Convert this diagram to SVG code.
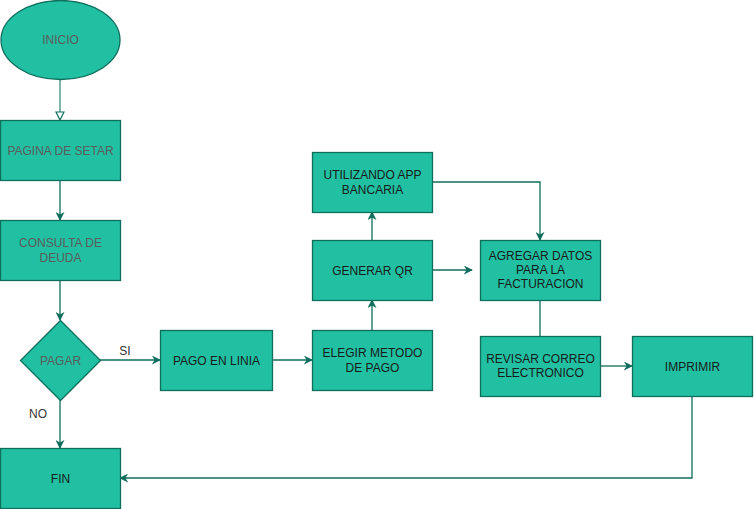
<svg xmlns="http://www.w3.org/2000/svg" width="754" height="509" viewBox="0 0 754 509">
<defs>
<style>
.n{fill:#21C0A2;stroke:#0F6E5C;stroke-width:1.3}
.t{font-family:"Liberation Sans",Arial,sans-serif;font-size:12px;fill:#1a1a1a;text-anchor:middle}
.g{fill:#5c5c5c}
.c{fill:none;stroke:#0F6E5C;stroke-width:1.3}
.l{font-family:"Liberation Sans",Arial,sans-serif;font-size:12px;fill:#333;text-anchor:middle}
</style>
<marker id="a" viewBox="0 0 10 10" refX="9" refY="5" markerWidth="9" markerHeight="9" orient="auto" markerUnits="userSpaceOnUse">
<path d="M0,0 L10,5 L0,10 L3,5 Z" fill="#0F6E5C"/>
</marker>
<marker id="o" viewBox="0 0 10 10" refX="9" refY="5" markerWidth="10" markerHeight="10" orient="auto" markerUnits="userSpaceOnUse">
<path d="M1,1 L9,5 L1,9 Z" fill="#fff" stroke="#0F6E5C" stroke-width="1.2"/>
</marker>
</defs>
<rect width="754" height="509" fill="#fff"/>
<g id="connectors">
<path class="c" d="M60,80 V120" marker-end="url(#o)" stroke-opacity="0.8"/>
<path class="c" d="M60,180 V220" marker-end="url(#a)"/>
<path class="c" d="M60,280 V320" marker-end="url(#a)"/>
<path class="c" d="M100,360 H160" marker-end="url(#a)"/>
<path class="c" d="M60,400 V448" marker-end="url(#a)"/>
<path class="c" d="M272,360 H312" marker-end="url(#a)"/>
<path class="c" d="M372,330 V300" marker-end="url(#a)"/>
<path class="c" d="M372,240 V212" marker-end="url(#a)"/>
<path class="c" d="M432,270 H472" marker-end="url(#a)"/>
<path class="c" d="M432,182 H540 V240" marker-end="url(#a)"/>
<path class="c" d="M540,300 V336"/>
<path class="c" d="M600,366 H632" marker-end="url(#a)"/>
<path class="c" d="M692,396 V478 H120" marker-end="url(#a)"/>
<text class="l" x="125" y="355" fill="#666">SI</text>
<text class="l" x="38" y="418">NO</text>
</g>
<g id="inicio"><ellipse class="n" cx="60.5" cy="40" rx="59.5" ry="39.5"/><text class="t g" x="60.5" y="44">INICIO</text></g>
<g id="pagina"><rect class="n" x="0.5" y="120.5" width="120" height="60"/><text class="t g" x="60.5" y="155">PAGINA DE SETAR</text></g>
<g id="consulta"><rect class="n" x="0.5" y="220.5" width="120" height="60"/><text class="t g" x="60.5" y="247">CONSULTA DE</text><text class="t g" x="60.5" y="262">DEUDA</text></g>
<g id="pagar"><path class="n" d="M60.5,320.5 L100.5,360.5 L60.5,400.5 L20.5,360.5 Z"/><text class="t g" x="60.5" y="364.5">PAGAR</text></g>
<g id="fin"><rect class="n" x="0.5" y="448.5" width="120" height="60"/><text class="t" x="60.5" y="482.5">FIN</text></g>
<g id="pagoenlinia"><rect class="n" x="160.5" y="330.5" width="112" height="60"/><text class="t" x="216.5" y="364.5">PAGO EN LINIA</text></g>
<g id="elegir"><rect class="n" x="312.5" y="330.5" width="120" height="60"/><text class="t" x="372.5" y="357">ELEGIR METODO</text><text class="t" x="372.5" y="372">DE PAGO</text></g>
<g id="generar"><rect class="n" x="312.5" y="240.5" width="120" height="60"/><text class="t" x="372.5" y="274.5">GENERAR QR</text></g>
<g id="utilizando"><rect class="n" x="312.5" y="152.5" width="120" height="60"/><text class="t" x="372.5" y="179">UTILIZANDO APP</text><text class="t" x="372.5" y="194">BANCARIA</text></g>
<g id="agregar"><rect class="n" x="480.5" y="240.5" width="120" height="60"/><text class="t" x="540.5" y="260">AGREGAR DATOS</text><text class="t" x="540.5" y="274">PARA LA</text><text class="t" x="540.5" y="288">FACTURACION</text></g>
<g id="revisar"><rect class="n" x="480.5" y="336.5" width="120" height="60"/><text class="t" x="540.5" y="363">REVISAR CORREO</text><text class="t" x="540.5" y="377">ELECTRONICO</text></g>
<g id="imprimir"><rect class="n" x="632.5" y="336.5" width="120" height="60"/><text class="t" x="692.5" y="370.5">IMPRIMIR</text></g>
</svg>
